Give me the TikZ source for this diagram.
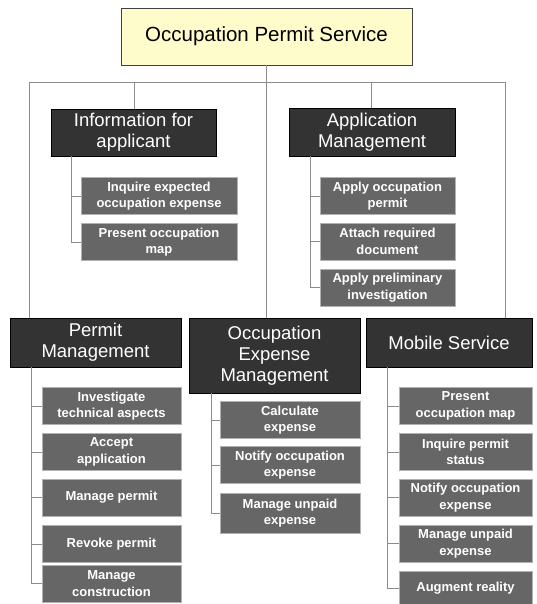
\documentclass[tikz,border=0pt]{standalone}
\usepackage{fontspec}
\setmainfont{Liberation Sans}

\tikzset{
  racine/.style={draw=black!75, fill=yellow!20, inner sep=0pt,
    minimum width=291pt, minimum height=57pt, font=\fontsize{20.5}{24}\selectfont},
  module/.style={draw=black, fill=black!80, text=white, align=center, inner sep=0pt,
    font=\fontsize{18.5}{21}\selectfont},
  tache/.style={draw=black!30, fill=black!60, text=white, align=center, inner sep=0pt,
    minimum height=37pt, font=\bfseries\fontsize{13}{16.5}\selectfont},
  lien/.style={draw=black!45, line width=0.8pt}
}

\begin{document}
\begin{tikzpicture}[x=1pt,y=-1pt]
\useasboundingbox (0,0) rectangle (537,604);

%% la racine
\node[racine] (root) at (266.5,36.5) {Occupation Permit Service};

%% les modules
\node[module, minimum width=165pt, minimum height=47pt] (info) at (133.5,132.5) {Information for\\applicant};
\node[module, minimum width=166pt, minimum height=48pt] (app) at (372,132) {Application\\Management};
\node[module, minimum width=171pt, minimum height=49pt] (permit) at (95.5,342.5) {Permit\\Management};
\node[module, minimum width=171pt, minimum height=75pt] (oem) at (274.5,355.5) {Occupation\\Expense\\Management};
\node[module, minimum width=166pt, minimum height=49pt] (mobile) at (449,342.5) {Mobile Service};

%% les taches de chaque module
\node[tache, minimum width=156pt] (inf1) at (159,196) {Inquire expected\\occupation expense};
\node[tache, minimum width=156pt] (inf2) at (159,242) {Present occupation\\map};

\node[tache, minimum width=135pt] (app1) at (387.5,196) {Apply occupation\\permit};
\node[tache, minimum width=135pt] (app2) at (387.5,241.5) {Attach required\\document};
\node[tache, minimum width=135pt] (app3) at (387.5,287.5) {Apply preliminary\\investigation};

\node[tache, minimum width=139pt] (per1) at (111.5,406) {Investigate\\technical aspects};
\node[tache, minimum width=139pt] (per2) at (111.5,452) {Accept\\application};
\node[tache, minimum width=139pt] (per3) at (111.5,497.5) {Manage permit};
\node[tache, minimum width=139pt] (per4) at (111.5,544) {Revoke permit};
\node[tache, minimum width=139pt] (per5) at (111.5,583.5) {Manage\\construction};

\node[tache, minimum width=140pt] (oem1) at (290,420) {Calculate\\expense};
\node[tache, minimum width=140pt] (oem2) at (290,465) {Notify occupation\\expense};
\node[tache, minimum width=140pt, minimum height=40pt] (oem3) at (290,513) {Manage unpaid\\expense};

\node[tache, minimum width=133pt] (mob1) at (465.5,406) {Present\\occupation map};
\node[tache, minimum width=133pt] (mob2) at (465.5,452) {Inquire permit\\status};
\node[tache, minimum width=133pt] (mob3) at (465.5,497.5) {Notify occupation\\expense};
\node[tache, minimum width=133pt] (mob4) at (465.5,543.5) {Manage unpaid\\expense};
\node[tache, minimum width=133pt, minimum height=34pt] (mob5) at (465.5,588) {Augment reality};

%% le bus horizontal
\coordinate (bG) at (29,82);
\coordinate (bI) at (134,82);
\coordinate (bA) at (371,82);
\coordinate (bD) at (505,82);
\draw[lien] (bG) -- (bD);
\draw[lien] (root.south) -- (root.south |- oem.north);
\draw[lien] (bG) -- (bG |- permit.north);
\draw[lien] (bI) -- (bI |- info.north);
\draw[lien] (bA) -- (bA |- app.north);
\draw[lien] (bD) -- (bD |- mobile.north);

%% les branches vers les taches
\foreach \t in {inf1,inf2} \draw[lien] ([xshift=21pt]info.south west) |- (\t.west);
\foreach \t in {app1,app2,app3} \draw[lien] ([xshift=22pt]app.south west) |- (\t.west);
\foreach \t in {per1,per2,per3,per4,per5} \draw[lien] ([xshift=22pt]permit.south west) |- (\t.west);
\foreach \t in {oem1,oem2,oem3} \draw[lien] ([xshift=23pt]oem.south west) |- (\t.west);
\foreach \t in {mob1,mob2,mob3,mob4,mob5} \draw[lien] ([xshift=22pt]mobile.south west) |- (\t.west);

\end{tikzpicture}
\end{document}
